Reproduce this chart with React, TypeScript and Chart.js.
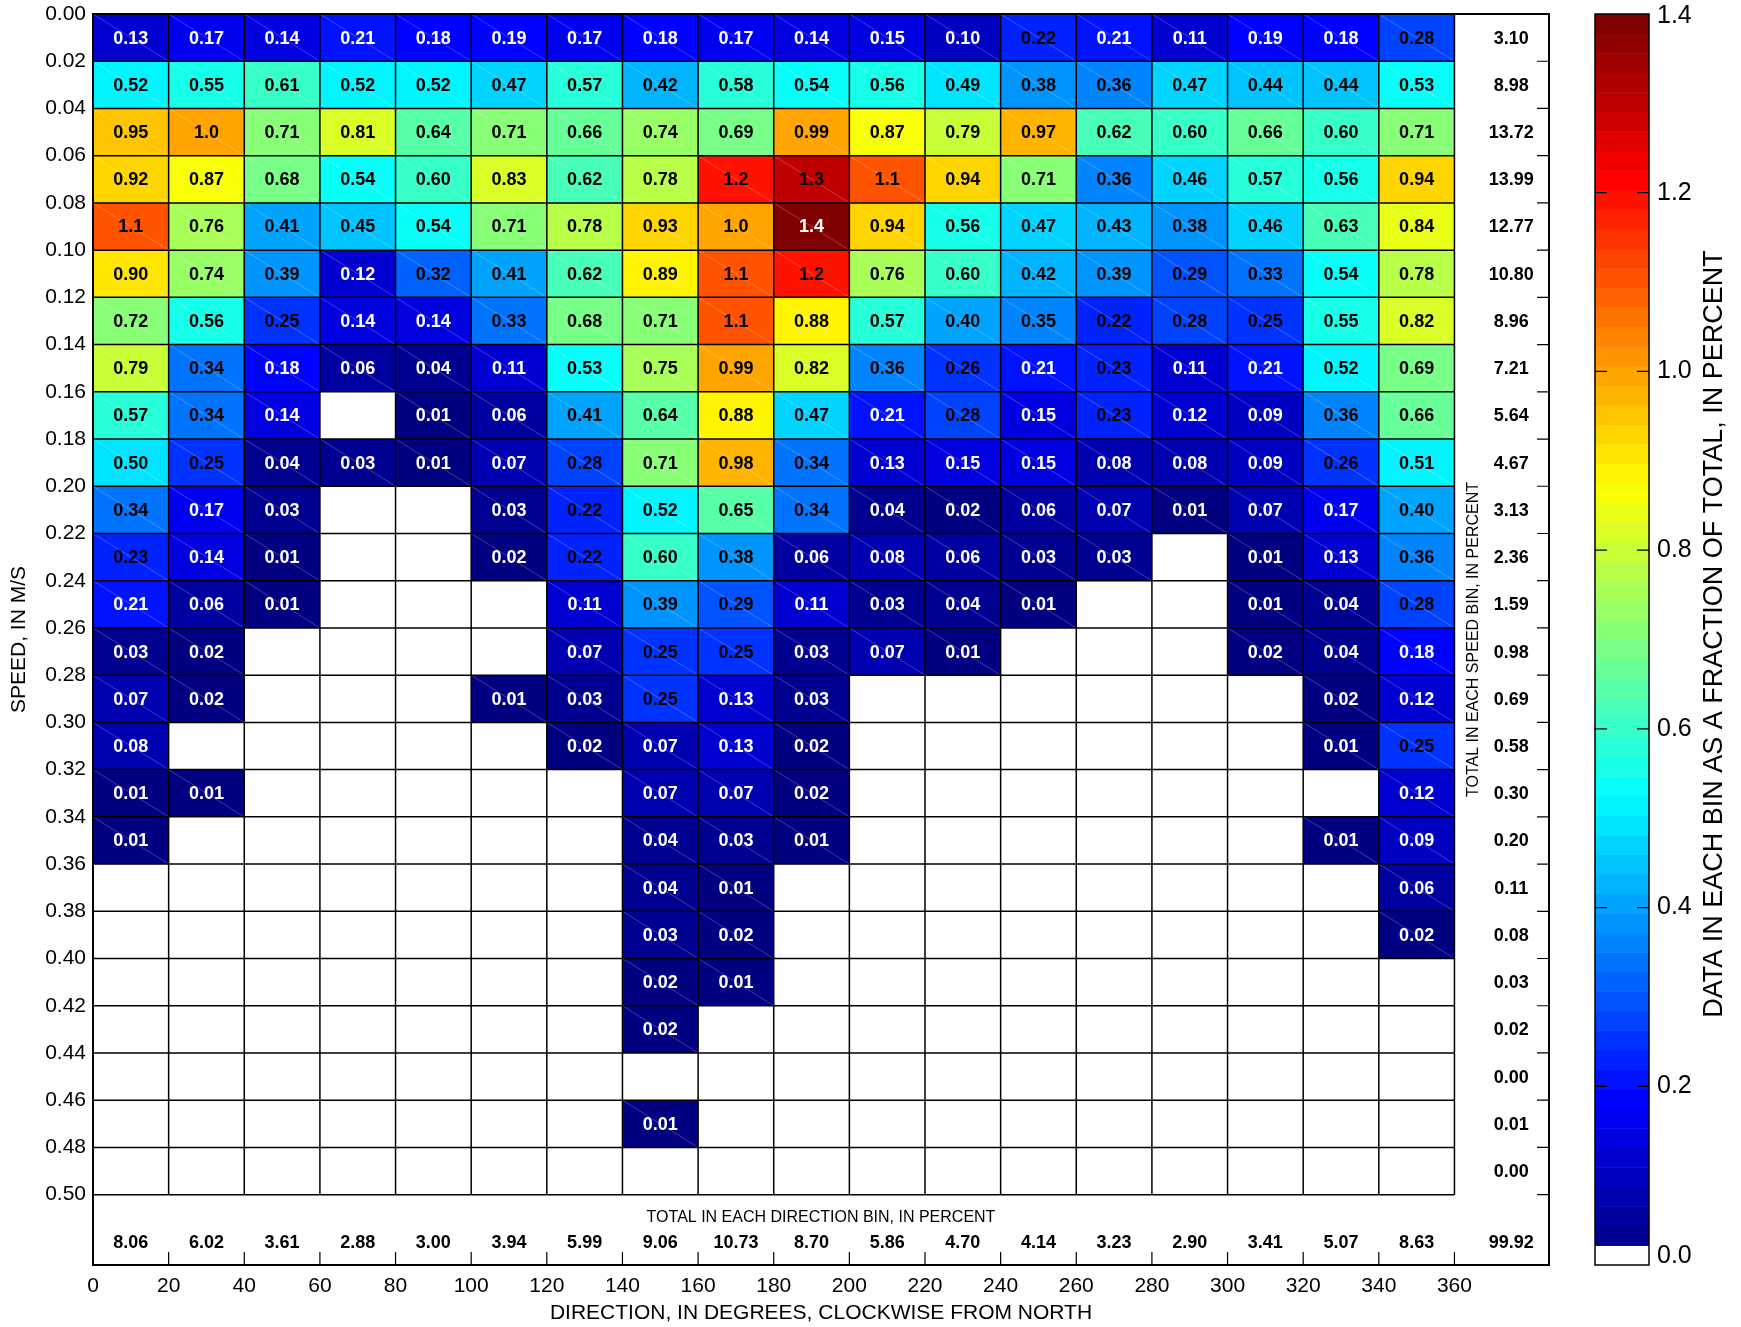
import { useEffect, useRef } from 'react';
import { Chart, registerables } from 'chart.js';

Chart.register(...registerables);

const FONT = '"Liberation Sans", Arial, Helvetica, sans-serif';

// Bin edges (direction in degrees, speed in m/s)
const directionEdges = [0, 20, 40, 60, 80, 100, 120, 140, 160, 180, 200, 220, 240, 260, 280, 300, 320, 340, 360];
const speedEdges = [
  0.0, 0.02, 0.04, 0.06, 0.08, 0.1, 0.12, 0.14, 0.16, 0.18, 0.2, 0.22, 0.24,
  0.26, 0.28, 0.3, 0.32, 0.34, 0.36, 0.38, 0.4, 0.42, 0.44, 0.46, 0.48, 0.5,
];

const _ = null;
// Percent of data in each bin, one list per speed bin (rows), one entry per direction bin
const cellValues: (number | null)[][] = [
  [0.13, 0.17, 0.14, 0.21, 0.18, 0.19, 0.17, 0.18, 0.17, 0.14, 0.15, 0.10, 0.22, 0.21, 0.11, 0.19, 0.18, 0.28],
  [0.52, 0.55, 0.61, 0.52, 0.52, 0.47, 0.57, 0.42, 0.58, 0.54, 0.56, 0.49, 0.38, 0.36, 0.47, 0.44, 0.44, 0.53],
  [0.95, 1.0, 0.71, 0.81, 0.64, 0.71, 0.66, 0.74, 0.69, 0.99, 0.87, 0.79, 0.97, 0.62, 0.60, 0.66, 0.60, 0.71],
  [0.92, 0.87, 0.68, 0.54, 0.60, 0.83, 0.62, 0.78, 1.2, 1.3, 1.1, 0.94, 0.71, 0.36, 0.46, 0.57, 0.56, 0.94],
  [1.1, 0.76, 0.41, 0.45, 0.54, 0.71, 0.78, 0.93, 1.0, 1.4, 0.94, 0.56, 0.47, 0.43, 0.38, 0.46, 0.63, 0.84],
  [0.90, 0.74, 0.39, 0.12, 0.32, 0.41, 0.62, 0.89, 1.1, 1.2, 0.76, 0.60, 0.42, 0.39, 0.29, 0.33, 0.54, 0.78],
  [0.72, 0.56, 0.25, 0.14, 0.14, 0.33, 0.68, 0.71, 1.1, 0.88, 0.57, 0.40, 0.35, 0.22, 0.28, 0.25, 0.55, 0.82],
  [0.79, 0.34, 0.18, 0.06, 0.04, 0.11, 0.53, 0.75, 0.99, 0.82, 0.36, 0.26, 0.21, 0.23, 0.11, 0.21, 0.52, 0.69],
  [0.57, 0.34, 0.14, _, 0.01, 0.06, 0.41, 0.64, 0.88, 0.47, 0.21, 0.28, 0.15, 0.23, 0.12, 0.09, 0.36, 0.66],
  [0.50, 0.25, 0.04, 0.03, 0.01, 0.07, 0.28, 0.71, 0.98, 0.34, 0.13, 0.15, 0.15, 0.08, 0.08, 0.09, 0.26, 0.51],
  [0.34, 0.17, 0.03, _, _, 0.03, 0.22, 0.52, 0.65, 0.34, 0.04, 0.02, 0.06, 0.07, 0.01, 0.07, 0.17, 0.40],
  [0.23, 0.14, 0.01, _, _, 0.02, 0.22, 0.60, 0.38, 0.06, 0.08, 0.06, 0.03, 0.03, _, 0.01, 0.13, 0.36],
  [0.21, 0.06, 0.01, _, _, _, 0.11, 0.39, 0.29, 0.11, 0.03, 0.04, 0.01, _, _, 0.01, 0.04, 0.28],
  [0.03, 0.02, _, _, _, _, 0.07, 0.25, 0.25, 0.03, 0.07, 0.01, _, _, _, 0.02, 0.04, 0.18],
  [0.07, 0.02, _, _, _, 0.01, 0.03, 0.25, 0.13, 0.03, _, _, _, _, _, _, 0.02, 0.12],
  [0.08, _, _, _, _, _, 0.02, 0.07, 0.13, 0.02, _, _, _, _, _, _, 0.01, 0.25],
  [0.01, 0.01, _, _, _, _, _, 0.07, 0.07, 0.02, _, _, _, _, _, _, _, 0.12],
  [0.01, _, _, _, _, _, _, 0.04, 0.03, 0.01, _, _, _, _, _, _, 0.01, 0.09],
  [_, _, _, _, _, _, _, 0.04, 0.01, _, _, _, _, _, _, _, _, 0.06],
  [_, _, _, _, _, _, _, 0.03, 0.02, _, _, _, _, _, _, _, _, 0.02],
  [_, _, _, _, _, _, _, 0.02, 0.01, _, _, _, _, _, _, _, _, _],
  [_, _, _, _, _, _, _, 0.02, _, _, _, _, _, _, _, _, _, _],
  [_, _, _, _, _, _, _, _, _, _, _, _, _, _, _, _, _, _],
  [_, _, _, _, _, _, _, 0.01, _, _, _, _, _, _, _, _, _, _],
  [_, _, _, _, _, _, _, _, _, _, _, _, _, _, _, _, _, _],
];

const speedTotals = [
  3.10, 8.98, 13.72, 13.99, 12.77, 10.80, 8.96, 7.21, 5.64, 4.67, 3.13, 2.36, 1.59,
  0.98, 0.69, 0.58, 0.30, 0.20, 0.11, 0.08, 0.03, 0.02, 0.00, 0.01, 0.00,
];
const directionTotals = [8.06, 6.02, 3.61, 2.88, 3.00, 3.94, 5.99, 9.06, 10.73, 8.70, 5.86, 4.70, 4.14, 3.23, 2.90, 3.41, 5.07, 8.63];
const grandTotal = 99.92;

const colorTicks = [0.0, 0.2, 0.4, 0.6, 0.8, 1.0, 1.2, 1.4];
const COLOR_MAX = 1.4;
const N_LEVELS = 64;

function clamp01(v: number) {
  return Math.max(0, Math.min(1, v));
}
function jet(t: number): string {
  const r = clamp01(Math.min(4 * t - 1.5, -4 * t + 4.5));
  const g = clamp01(Math.min(4 * t - 0.5, -4 * t + 3.5));
  const b = clamp01(Math.min(4 * t + 0.5, -4 * t + 2.5));
  return `rgb(${Math.round(r * 255)},${Math.round(g * 255)},${Math.round(b * 255)})`;
}
function levelOf(v: number) {
  return Math.max(0, Math.min(N_LEVELS - 1, Math.floor((v / COLOR_MAX) * N_LEVELS)));
}
function colorFor(v: number) {
  return jet(levelOf(v) / (N_LEVELS - 1));
}
function cellLabel(v: number) {
  return v >= 0.995 ? v.toFixed(1) : v.toFixed(2);
}

const heatmapPlugin = {
  id: 'heatmapPlugin',
  afterDraw(chart: any) {
    const { ctx, chartArea: ca } = chart;
    const xs = chart.scales.x;
    const ys = chart.scales.y;
    const cb = chart.scales.cb;
    ctx.save();

    // cells
    cellValues.forEach((row, r) => {
      row.forEach((v, c) => {
        if (v == null) return;
        const x0 = xs.getPixelForValue(directionEdges[c]);
        const x1 = xs.getPixelForValue(directionEdges[c + 1]);
        const y0 = ys.getPixelForValue(speedEdges[r]);
        const y1 = ys.getPixelForValue(speedEdges[r + 1]);
        ctx.fillStyle = colorFor(v);
        ctx.fillRect(x0, y0, x1 - x0, y1 - y0);
        ctx.strokeStyle = 'rgba(255,255,255,0.4)';
        ctx.lineWidth = 0.6;
        ctx.beginPath();
        ctx.moveTo(x0, y0);
        ctx.lineTo(x1, y1);
        ctx.stroke();
      });
    });

    // grid lines
    const gx0 = xs.getPixelForValue(directionEdges[0]);
    const gx1 = xs.getPixelForValue(directionEdges[directionEdges.length - 1]);
    const gy0 = ys.getPixelForValue(speedEdges[0]);
    const gy1 = ys.getPixelForValue(speedEdges[speedEdges.length - 1]);
    ctx.strokeStyle = '#000';
    ctx.lineWidth = 1.5;
    ctx.beginPath();
    directionEdges.forEach((d) => {
      const x = xs.getPixelForValue(d);
      ctx.moveTo(x, gy0);
      ctx.lineTo(x, gy1);
    });
    speedEdges.forEach((s) => {
      const y = ys.getPixelForValue(s);
      ctx.moveTo(gx0, y);
      ctx.lineTo(gx1, y);
    });
    ctx.stroke();

    // inward ticks on bottom and right frame
    ctx.lineWidth = 1.2;
    ctx.beginPath();
    directionEdges.forEach((d) => {
      const x = xs.getPixelForValue(d);
      ctx.moveTo(x, ca.bottom);
      ctx.lineTo(x, ca.bottom - 13);
    });
    speedEdges.slice(1).forEach((s) => {
      const y = ys.getPixelForValue(s);
      ctx.moveTo(ca.right, y);
      ctx.lineTo(ca.right - 12, y);
    });
    ctx.stroke();

    // frame
    ctx.lineWidth = 2;
    ctx.strokeRect(ca.left, ca.top, ca.right - ca.left, ca.bottom - ca.top);

    // cell labels
    ctx.textAlign = 'center';
    ctx.textBaseline = 'middle';
    ctx.font = `bold 18px ${FONT}`;
    cellValues.forEach((row, r) => {
      row.forEach((v, c) => {
        if (v == null) return;
        const xc = xs.getPixelForValue((directionEdges[c] + directionEdges[c + 1]) / 2);
        const yc = ys.getPixelForValue((speedEdges[r] + speedEdges[r + 1]) / 2);
        ctx.fillStyle = v < 0.215 || v > 1.35 ? '#fff' : '#000';
        ctx.fillText(cellLabel(v), xc, yc + 1);
      });
    });

    // totals
    ctx.fillStyle = '#000';
    const totX = xs.getPixelForValue(375);
    speedTotals.forEach((t, r) => {
      const yc = ys.getPixelForValue((speedEdges[r] + speedEdges[r + 1]) / 2);
      ctx.fillText(t.toFixed(2), totX, yc + 1);
    });
    const dirTotY = ys.getPixelForValue(0.5203);
    directionTotals.forEach((t, c) => {
      const xc = xs.getPixelForValue((directionEdges[c] + directionEdges[c + 1]) / 2);
      ctx.fillText(t.toFixed(2), xc, dirTotY);
    });
    ctx.fillText(grandTotal.toFixed(2), totX, dirTotY);

    ctx.font = `16px ${FONT}`;
    ctx.fillText('TOTAL IN EACH DIRECTION BIN, IN PERCENT', (ca.left + ca.right) / 2, ys.getPixelForValue(0.5099));
    ctx.save();
    ctx.translate(xs.getPixelForValue(365.1), (ca.top + ca.bottom) / 2);
    ctx.rotate(-Math.PI / 2);
    ctx.fillText('TOTAL IN EACH SPEED BIN, IN PERCENT', 0, 0);
    ctx.restore();

    // colorbar
    const cbL = 1595;
    const cbR = 1649;
    for (let i = 0; i < N_LEVELS; i++) {
      const ya = cb.getPixelForValue((i * COLOR_MAX) / N_LEVELS);
      const yb = cb.getPixelForValue(((i + 1) * COLOR_MAX) / N_LEVELS);
      ctx.fillStyle = i === 0 ? '#fff' : jet(i / (N_LEVELS - 1));
      ctx.fillRect(cbL, yb, cbR - cbL, ya - yb + 0.5);
    }
    const cbTop = cb.getPixelForValue(COLOR_MAX);
    const cbBot = cb.getPixelForValue(0);
    ctx.strokeStyle = '#000';
    ctx.lineWidth = 1.5;
    ctx.strokeRect(cbL, cbTop, cbR - cbL, cbBot - cbTop);
    ctx.lineWidth = 1.2;
    ctx.beginPath();
    colorTicks.forEach((t) => {
      if (t <= 0 || t >= COLOR_MAX) return;
      const y = cb.getPixelForValue(t);
      ctx.moveTo(cbL, y);
      ctx.lineTo(cbL + 12, y);
      ctx.moveTo(cbR, y);
      ctx.lineTo(cbR - 12, y);
    });
    ctx.stroke();
    ctx.fillStyle = '#000';
    ctx.font = `25px ${FONT}`;
    ctx.textAlign = 'left';
    colorTicks.forEach((t) => {
      let y = cb.getPixelForValue(t);
      if (t <= 0) {
        ctx.textBaseline = 'bottom';
        y += 4;
      } else if (t >= COLOR_MAX) {
        ctx.textBaseline = 'middle';
        y += 2;
      } else {
        ctx.textBaseline = 'middle';
      }
      ctx.fillText(t.toFixed(1), cbR + 8, y);
    });
    ctx.save();
    ctx.translate(1715, 634);
    ctx.rotate(-Math.PI / 2);
    ctx.textAlign = 'center';
    ctx.textBaseline = 'middle';
    ctx.font = `27px ${FONT}`;
    ctx.fillText('DATA IN EACH BIN AS A FRACTION OF TOTAL, IN PERCENT', 0, 0);
    ctx.restore();

    ctx.restore();
  },
};

export default function App() {
  const canvasRef = useRef<HTMLCanvasElement | null>(null);

  useEffect(() => {
    if (!canvasRef.current) return;
    Chart.defaults.font.family = FONT;
    Chart.defaults.color = '#000';
    const points: { x: number; y: number }[] = [];
    cellValues.forEach((row, r) =>
      row.forEach((v, c) => {
        if (v != null)
          points.push({
            x: (directionEdges[c] + directionEdges[c + 1]) / 2,
            y: (speedEdges[r] + speedEdges[r + 1]) / 2,
          });
      })
    );
    const chart = new Chart(canvasRef.current, {
      type: 'scatter',
      data: {
        datasets: [{ label: 'bins', data: points, pointRadius: 0, pointHoverRadius: 0 }],
      },
      options: {
        animation: false,
        responsive: true,
        maintainAspectRatio: false,
        devicePixelRatio: 1,
        events: [],
        layout: { padding: { top: 14, right: 192, bottom: 0, left: 0 } },
        plugins: { legend: { display: false }, tooltip: { enabled: false }, title: { display: false } },
        scales: {
          x: {
            type: 'linear',
            position: 'bottom',
            min: 0,
            max: 385,
            grid: { display: false, drawTicks: false },
            border: { display: false },
            ticks: {
              stepSize: 20,
              autoSkip: false,
              maxRotation: 0,
              includeBounds: false,
              padding: 9,
              color: '#000',
              font: { size: 21, family: FONT },
              callback: (v: any) => String(v),
            },
            afterBuildTicks: (s: any) => {
              s.ticks = s.ticks.filter((t: any) => t.value <= 360 + 1e-9);
            },
            afterFit: (s: any) => {
              s.height = 62;
              s.paddingLeft = 0;
              s.paddingRight = 0;
            },
            title: {
              display: true,
              text: 'DIRECTION, IN DEGREES, CLOCKWISE FROM NORTH',
              color: '#000',
              font: { size: 21, family: FONT },
              padding: { top: 0, bottom: 1 },
            },
          },
          y: {
            type: 'linear',
            position: 'left',
            reverse: true,
            min: 0,
            max: 0.5298,
            grid: { display: false, drawTicks: false },
            border: { display: false },
            ticks: {
              stepSize: 0.02,
              autoSkip: false,
              includeBounds: false,
              padding: 7,
              color: '#000',
              font: { size: 21, family: FONT },
              callback: (v: any) => Number(v).toFixed(2),
            },
            afterBuildTicks: (s: any) => {
              s.ticks = s.ticks.filter((t: any) => t.value <= 0.5 + 1e-9);
            },
            afterFit: (s: any) => {
              s.width = 93;
              s.paddingTop = 0;
              s.paddingBottom = 0;
            },
            title: {
              display: true,
              text: 'SPEED, IN M/S',
              color: '#000',
              font: { size: 21, family: FONT },
              padding: { top: 7, bottom: 0 },
            },
          },
          cb: {
            type: 'linear',
            position: 'right',
            display: false,
            min: 0,
            max: COLOR_MAX,
          },
        },
      },
      plugins: [heatmapPlugin],
    } as any);
    return () => chart.destroy();
  }, []);

  return (
    <div style={{ position: 'absolute', left: 0, top: 0, width: 1741, height: 1327, background: '#fff' }}>
      <canvas ref={canvasRef} />
    </div>
  );
}
